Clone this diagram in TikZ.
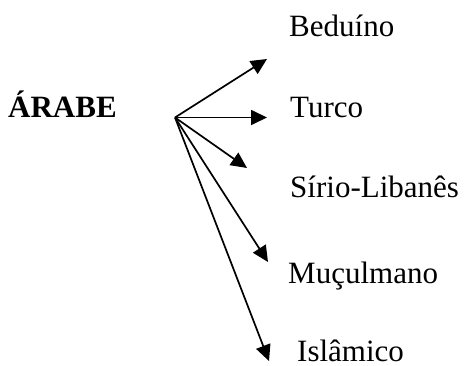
\documentclass[tikz,border=0pt]{standalone}
\usepackage{fontspec}
\setmainfont{Liberation Serif}
\usetikzlibrary{arrows.meta}
\begin{document}
\begin{tikzpicture}[x=1pt,y=-1pt,
  lbl/.style={anchor=base west, inner sep=0pt, font=\fontsize{31}{36}\selectfont},
  arr/.style={line width=1.7pt, -{Triangle[length=16pt,width=15pt]}}]
\useasboundingbox (0,0) rectangle (465,366);
\node[lbl, font=\fontsize{31}{36}\selectfont\bfseries] (arabe) at (8,118) {ÁRABE};
\node[lbl] (beduino) at (289,37) {Beduíno};
\node[lbl] (turco) at (290,118) {Turco};
\node[lbl] (sirio) at (290,197) {Sírio-Libanês};
\node[lbl] (muculmano) at (288,283) {Muçulmano};
\node[lbl] (islamico) at (297,361) {Islâmico};
\coordinate (o) at (175,117.5);
\coordinate (t1) at (267,59);
\coordinate (t2) at (267,117.5);
\coordinate (t3) at (247,168);
\coordinate (t4) at (268,262);
\coordinate (t5) at (269,361);
\draw[arr] (o) -- (t1);
\draw[arr] (o) -- (t2);
\draw[arr] (o) -- (t3);
\draw[arr] (o) -- (t4);
\draw[arr] (o) -- (t5);
\end{tikzpicture}
\end{document}
